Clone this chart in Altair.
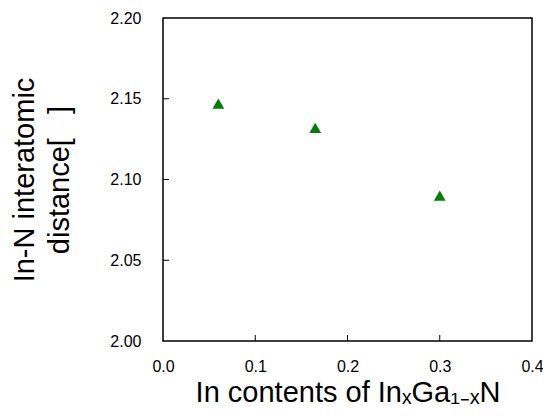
import altair as alt
import pandas as pd

# Data
in_content = [0.06, 0.165, 0.30]
distance = [2.147, 2.132, 2.090]

y_ticks = [2.05, 2.10, 2.15]
x_ticks = [0.1, 0.2, 0.3]
y_labels = [2.0, 2.05, 2.1, 2.15, 2.2]
x_labels = [0.0, 0.1, 0.2, 0.3, 0.4]

FONT = "Liberation Sans"
W, H = 369, 323
NBSP = "\u00a0"

df = pd.DataFrame({"x": in_content, "y": distance})
xs = alt.Scale(domain=[0, 0.4], nice=False, zero=False)
ys = alt.Scale(domain=[2.0, 2.2], nice=False, zero=False)

points = alt.Chart(df).mark_point(
    shape="triangle-up", filled=True, color="#008000", size=140, opacity=1
).encode(
    x=alt.X("x:Q", scale=xs, axis=alt.Axis(
        title="In contents of InₓGa₁₋ₓN", values=x_labels, format=".1f",
        ticks=False, domain=False, grid=False, labelPadding=17, labelFlush=False,
        labelFontSize=16, titleFontSize=29, titlePadding=4,
        labelFont=FONT, titleFont=FONT, titleFontWeight="normal",
        labelColor="black", titleColor="black")),
    y=alt.Y("y:Q", scale=ys, axis=alt.Axis(
        title=["In-N interatomic", "distance[" + NBSP * 3 + "]"], values=y_labels, format=".2f",
        ticks=False, domain=False, grid=False, labelPadding=22, labelFlush=False,
        labelFontSize=16, titleFontSize=29, titlePadding=35,
        labelFont=FONT, titleFont=FONT, titleFontWeight="normal",
        labelColor="black", titleColor="black", titleLineHeight=35)),
)

frame = alt.Chart(pd.DataFrame({"a": [0]})).mark_rect(
    fill=None, fillOpacity=0, stroke="black", strokeWidth=1.5
).encode(x=alt.value(0), x2=alt.value(W), y=alt.value(0), y2=alt.value(H))

yt = alt.Chart(pd.DataFrame({"t": y_ticks})).mark_rule(color="black", strokeWidth=1).encode(
    y=alt.Y("t:Q", scale=ys), x=alt.value(0), x2=alt.value(6))
xt = alt.Chart(pd.DataFrame({"t": x_ticks})).mark_rule(color="black", strokeWidth=1).encode(
    x=alt.X("t:Q", scale=xs), y=alt.value(H), y2=alt.value(H - 6))

chart = alt.layer(points, yt, xt, frame).properties(
    width=W, height=H,
    autosize=alt.AutoSizeParams(type="none"),
    padding={"left": 155, "top": 10, "right": 11, "bottom": 70},
).configure(background="white").configure_view(stroke=None)

chart.save("out.html", embed_options={"renderer": "svg", "actions": False})
